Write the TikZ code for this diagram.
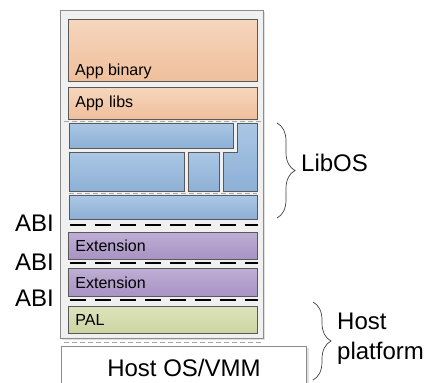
\documentclass[tikz,border=0pt]{standalone}
\usepackage{fontspec}
\setmainfont{Liberation Sans}
\usetikzlibrary{positioning,decorations.pathreplacing}

\definecolor{apptop}{HTML}{F6D6BD}
\definecolor{appbot}{HTML}{EFBF9B}
\definecolor{libtop}{HTML}{AAC7E4}
\definecolor{libbot}{HTML}{8DB0D6}
\definecolor{exttop}{HTML}{BEADD4}
\definecolor{extbot}{HTML}{A893C3}
\definecolor{paltop}{HTML}{DDE4BC}
\definecolor{palbot}{HTML}{CBD4A2}

\begin{document}
\begin{tikzpicture}[x=1pt, y=-1pt,
  every node/.style={font=\fontsize{16}{19}\selectfont, inner sep=0pt},
  big/.style={font=\fontsize{24}{30}\selectfont},
  layer/.style={draw=black!65, line width=0.8pt, anchor=north west, minimum width=189pt, text width=175pt, align=left},
  appbox/.style={layer, top color=apptop, bottom color=appbot},
  libbox/.style={draw=black!65, line width=0.8pt, top color=libtop, bottom color=libbot},
  extbox/.style={layer, top color=exttop, bottom color=extbot},
  palbox/.style={layer, top color=paltop, bottom color=palbot},
  abi/.style={line width=2.6pt, dash pattern=on 16pt off 9pt},
  seam/.style={draw=black!35, line width=0.8pt, dash pattern=on 5pt off 3pt},
  brace/.style={decorate, decoration={brace, amplitude=18pt}, draw=black!75, line width=0.7pt}]
\useasboundingbox (0,0) rectangle (434,383);

% the stack
\fill[black!12] (62,12) rectangle (265,340);
\node (stack) [draw=black!45, fill=black!6, line width=1pt, anchor=north west, minimum width=203pt, minimum height=328pt] at (60,10) {};

\node (appbin) [appbox, minimum height=62pt] at (68,19) {};
\node [anchor=south west] at (75,79) {App binary};
\node (applibs) [appbox, minimum height=32pt, below=5pt of appbin.south west, anchor=north west] {App libs};

% LibOS blocks
\node (lib1) [libbox, anchor=north west, minimum width=164pt, minimum height=25pt] at (69,123) {};
\node (lib2) [libbox, anchor=north west, minimum width=115pt, minimum height=39pt] at (69,152) {};
\node (lib3) [libbox, anchor=north west, minimum width=31pt, minimum height=39pt] at (188,152) {};
\draw[libbox] (237,123) -| (257,191) -| (223,152) -| cycle;
\node (lib4) [libbox, anchor=north west, minimum width=188pt, minimum height=24pt] at (69,195) {};

\node (ext1) [extbox, minimum height=27pt] at (68,232) {Extension};
\node (ext2) [extbox, minimum height=28pt] at (68,268) {Extension};
\node (pal) [palbox, minimum height=27pt] at (68,306) {PAL};

\draw[seam] (64,121) -- (261,121);
\draw[seam] (69,193) -- (257,193);
\draw[seam] (64,342) -- (263,342);

\draw[abi] (70,225) -- (258,225);
\draw[abi] (70,263) -- (258,263);
\draw[abi] (70,300) -- (258,300);

\node (abi1) [big, anchor=east] at (54,223) {ABI};
\node (abi2) [big, anchor=east] at (54,262) {ABI};
\node (abi3) [big, anchor=east] at (54,298) {ABI};

% host
\fill[black!12] (63,348) rectangle (309,392);
\node (host) [big, draw=black!45, fill=white, line width=1pt, anchor=north west, minimum width=245pt, minimum height=42pt] at (61,346) {Host OS/VMM};

% braces
\coordinate (libtop) at (277,123);
\coordinate (libbot) at (277,218);
\draw[brace] (libtop) -- (libbot);
\node (libos) [big, anchor=west] at (301,163) {LibOS};

\coordinate (hosttop) at (313,302);
\coordinate (hostbot) at (313,380);
\draw[brace] (hosttop) -- (hostbot);
\node (plat) [big, anchor=west, align=left] at (337,339) {Host\\platform};
\end{tikzpicture}
\end{document}
